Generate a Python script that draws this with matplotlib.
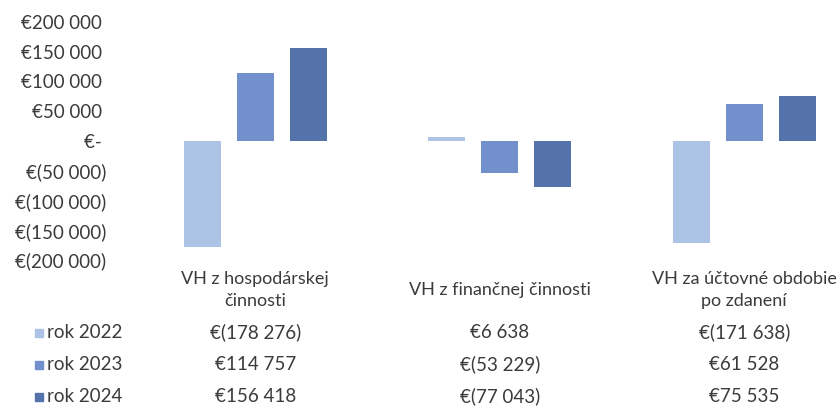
import matplotlib
matplotlib.use("Agg")
import matplotlib.pyplot as plt
from matplotlib.patches import Rectangle
import matplotlib.transforms as mtransforms

categories = ["VH z hospodárskej\nčinnosti", "VH z finančnej činnosti", "VH za účtovné obdobie\npo zdanení"]
series_names = ["rok 2022", "rok 2023", "rok 2024"]
v2022 = [-178276, 6638, -171638]
v2023 = [114757, -53229, 61528]
v2024 = [156418, -77043, 75535]
table_2022 = ["€(178 276)", "€6 638", "€(171 638)"]
table_2023 = ["€114 757", "€(53 229)", "€61 528"]
table_2024 = ["€156 418", "€(77 043)", "€75 535"]
yticks = [200000, 150000, 100000, 50000, 0, -50000, -100000, -150000, -200000]
ytick_labels = ["€200 000 ", "€150 000 ", "€100 000 ", "€50 000 ", "€- ",
                "€(50 000)", "€(100 000)", "€(150 000)", "€(200 000)"]

series = [v2022, v2023, v2024]
tables = [table_2022, table_2023, table_2024]
colors = ["#adc3e6", "#7291cc", "#5473ab"]
txt = "#3b3b3b"
font = "Lato"

W, H = 838, 409
fig = plt.figure(figsize=(W / 100, H / 100), dpi=100)
plt.rcParams["font.family"] = [font, "DejaVu Sans"]

left_px, top_px, bot_px = 133, 22, 260
ax = fig.add_axes([left_px / W, 1 - bot_px / H, 1 - left_px / W, (bot_px - top_px) / H])
step = 0.2168
width = 0.151
for i, vals in enumerate(series):
    xs = [c + (i - 1) * step for c in range(len(categories))]
    ax.bar(xs, vals, width=width, color=colors[i], linewidth=0)

ax.set_ylim(-200000, 200000)
ax.set_xlim(-0.5, (W - left_px) / 244.5 - 0.5)
ax.set_yticks(yticks)
ax.set_yticklabels(ytick_labels, fontsize=13.5, color=txt)
ax.tick_params(axis="y", length=0, pad=19)
ax.set_xticks([])
for s in ax.spines.values():
    s.set_visible(False)

blend = mtransforms.blended_transform_factory(ax.transData, fig.transFigure)

def fy(py):
    return 1 - py / H

for j, cat in enumerate(categories):
    ax.text(j, fy(290), cat, transform=blend, ha="center", va="center",
            fontsize=13, color=txt, linespacing=1.5)

row_y = [333, 365, 397]
for i, name in enumerate(series_names):
    base = fy(row_y[i] + 5)
    fig.text(47 / W, base, name, ha="left", va="baseline", fontsize=13.5, color=txt)
    fig.patches.append(Rectangle((35 / W, fy(row_y[i] + 4)), 8 / W, 8 / H,
                                 transform=fig.transFigure, color=colors[i], figure=fig))
    for j in range(len(categories)):
        ax.text(j, base, tables[i][j], transform=blend, ha="center", va="baseline",
                fontsize=13.5, color=txt)

fig.savefig("out.png", dpi=100, facecolor="white")
